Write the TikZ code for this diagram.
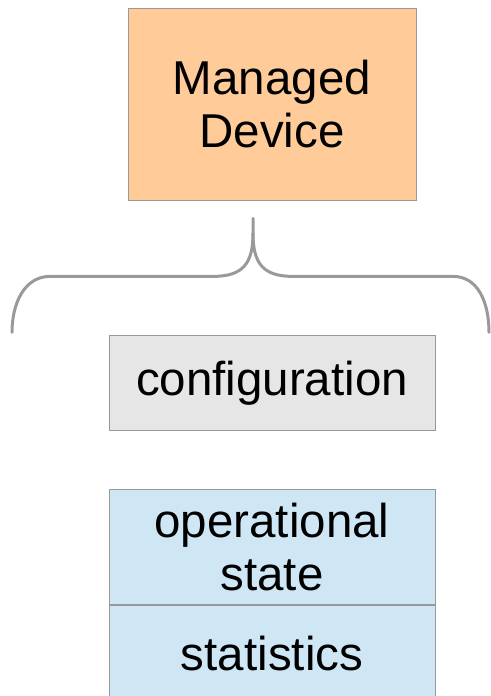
\documentclass[tikz,border=0pt]{standalone}
\usepackage{fontspec}
\setmainfont{Liberation Sans}
\usetikzlibrary{positioning}
\definecolor{devorange}{HTML}{FFCC99}
\definecolor{cfggray}{HTML}{E6E6E6}
\definecolor{opblue}{HTML}{CFE7F5}
\definecolor{edgegray}{HTML}{999999}
\begin{document}
\begin{tikzpicture}[x=1pt, y=1pt,
	box/.style={draw=edgegray, line width=0.8pt, align=center, inner sep=0pt,
		font=\fontsize{47.5}{53}\selectfont},
	bracket/.style={draw=edgegray, line width=3pt, line cap=round}]
	\useasboundingbox (0,0) rectangle (490,696);
	\node [box, fill=devorange, minimum width=288, minimum height=192] (device) at (272,592) {Managed\\Device};
	\node [box, fill=cfggray, minimum width=326, minimum height=95, below=135 of device] (config) {configuration};
	\node [box, fill=opblue, minimum width=326, minimum height=115, below=58 of config] (opstate) {operational\\state};
	\node [box, fill=opblue, minimum width=326, minimum height=97, below=0 of opstate] (stats) {statistics};
	% curly bracket under the device
	\draw [bracket] (device.south) ++(-19,-18) coordinate (tip) -- ++(0,-15) coordinate (mid)
		.. controls +(0,-30) and +(30,0) .. ++(-40,-43) coordinate (L) -- ++(-163,0)
		.. controls +(-25,0) and +(0,30) .. ++(-38,-56);
	\draw [bracket] (mid) .. controls +(0,-30) and +(-30,0) .. ++(40,-43) -- ++(160,0)
		.. controls +(25,0) and +(0,30) .. ++(36,-56);
\end{tikzpicture}
\end{document}
